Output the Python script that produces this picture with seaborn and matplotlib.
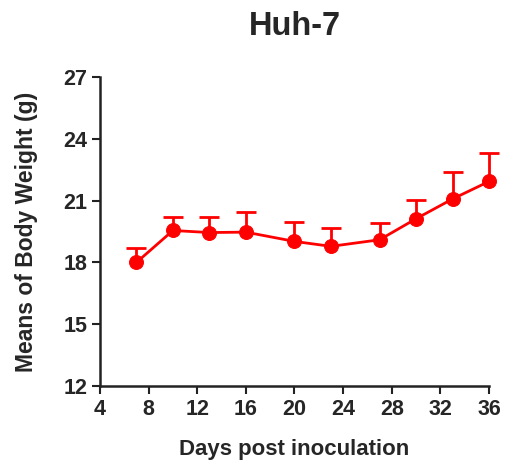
import matplotlib
matplotlib.use("Agg")
import matplotlib.pyplot as plt
import seaborn as sns
import numpy as np
import pandas as pd

# values
days = [7, 10, 13, 16, 20, 23, 27, 30, 33, 36]
weight_mean = [18.0, 19.55, 19.45, 19.47, 19.02, 18.78, 19.1, 20.12, 21.08, 21.93]
weight_sd = [0.7, 0.65, 0.75, 0.98, 0.96, 0.87, 0.83, 0.9, 1.3, 1.4]

x_ticks = [4, 8, 12, 16, 20, 24, 28, 32, 36]
y_ticks = [12, 15, 18, 21, 24, 27]

sns.set_style("ticks")
plt.rcParams["font.family"] = ["Liberation Sans", "DejaVu Sans"]
plt.rcParams["font.weight"] = "bold"

df = pd.DataFrame({"day": days, "weight": weight_mean})

fig = plt.figure(figsize=(5.06, 4.67), dpi=100)
ax = fig.add_axes([0.1976, 0.1734, 0.7688, 0.6617])

red = "#ff0000"
# upper-only error bars, like the original
eb = ax.errorbar(days, weight_mean, yerr=[np.zeros(len(weight_sd)), weight_sd],
                 fmt="none", ecolor=red, elinewidth=2, capsize=7.5, capthick=2, zorder=2)
caps = eb.lines[1]
caps[0].set_visible(False)  # no cap at the mean itself
for art in list(caps) + list(eb.lines[2]):
    art.set_clip_on(False)
sns.lineplot(data=df, x="day", y="weight", ax=ax, color=red, linewidth=2,
             marker="o", markersize=10, markeredgecolor=red, zorder=3)
for ln in ax.lines:
    ln.set_clip_on(False)

ax.set_xlim(4, 36)
ax.set_ylim(12, 27)
ax.set_xticks(x_ticks)
ax.set_yticks(y_ticks)
ax.tick_params(axis="both", labelsize=15.5, width=1.5, length=6, pad=3, color="#222222")
for lab in ax.get_xticklabels() + ax.get_yticklabels():
    lab.set_fontweight("bold")

ax.set_xlabel("Days post inoculation", fontsize=16, fontweight="bold", labelpad=14)
ax.set_ylabel("Means of Body Weight (g)", fontsize=16.5, fontweight="bold", labelpad=18)
ax.set_title("Huh-7", fontsize=23.5, fontweight="bold", pad=30)

sns.despine(ax=ax)
for side in ["left", "bottom"]:
    ax.spines[side].set_linewidth(1.8)
    ax.spines[side].set_color("#222222")

fig.savefig("out.png", dpi=100)
